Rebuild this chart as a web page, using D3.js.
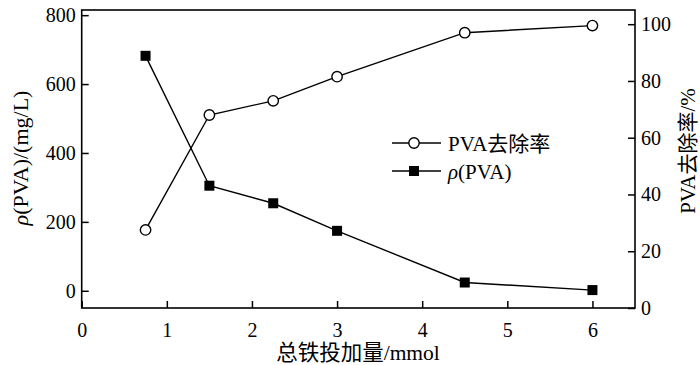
<!DOCTYPE html>
<html>
<head>
<meta charset="utf-8">
<script src="https://cdn.jsdelivr.net/npm/d3@7"></script>
<style>
  html, body { margin: 0; padding: 0; background: #fff; }
  svg { display: block; }
  svg text { font-family: "Liberation Serif", Tinos, "Times New Roman", Times, serif, "Noto Sans CJK SC"; fill: #000; }
</style>
</head>
<body>
<div id="chart"></div>
<script>
// ---- data ----
const ironDose = [0.75, 1.5, 2.25, 3, 4.5, 6];          // 总铁投加量 / mmol
const removalRate = [27.5, 68, 73, 81.5, 97, 99.5];     // PVA去除率 / %
const pvaConc = [682, 305, 254, 174, 24, 2];            // ρ(PVA) / (mg/L)
const xTicks = [0, 1, 2, 3, 4, 5, 6];
const leftTicks = [0, 200, 400, 600, 800];
const rightTicks = [0, 20, 40, 60, 80, 100];
const xTitle = "总铁投加量/mmol";
const rightTitle = "PVA去除率/%";
const legendRemoval = "PVA去除率";

const W = 700, H = 365;
const L = 81.7, R = 635, T = 10, B = 308;

const svg = d3.select("#chart").append("svg").attr("width", W).attr("height", H);

const x = d3.scaleLinear().domain([0, 6.5]).range([L, R]);
const yL = d3.scaleLinear().domain([-50, 815]).range([B, T]);
const yR = d3.scaleLinear().domain([0, 105]).range([B, T]);

const tickLen = 7;
function styleAxis(g, fs) {
  g.attr("font-family", null);
  g.select(".domain").remove();
  g.selectAll(".tick line").attr("stroke", "#000").attr("stroke-width", 1.5);
  g.selectAll(".tick text").attr("font-size", fs).attr("fill", "#000");
}

// bottom axis
const gx = svg.append("g").attr("transform", `translate(0,${B})`)
  .call(d3.axisBottom(x).tickValues(xTicks).tickFormat(d3.format("d")).tickSizeInner(-tickLen).tickSizeOuter(0).tickPadding(15));
styleAxis(gx, 20);

// left axis
const gl = svg.append("g").attr("transform", `translate(${L},0)`)
  .call(d3.axisLeft(yL).tickValues(leftTicks).tickFormat(d3.format("d")).tickSizeInner(-tickLen).tickSizeOuter(0).tickPadding(6));
styleAxis(gl, 20);

// right axis
const gr = svg.append("g").attr("transform", `translate(${R},0)`)
  .call(d3.axisRight(yR).tickValues(rightTicks).tickFormat(d3.format("d")).tickSizeInner(-tickLen).tickSizeOuter(0).tickPadding(6));
styleAxis(gr, 20);

// frame
svg.append("rect").attr("x", L).attr("y", T).attr("width", R - L).attr("height", B - T)
  .attr("fill", "none").attr("stroke", "#000").attr("stroke-width", 1.6);

// lines
const lineR = d3.line().x((d, i) => x(ironDose[i])).y(d => yR(d));
const lineL = d3.line().x((d, i) => x(ironDose[i])).y(d => yL(d));

svg.append("path").attr("d", lineL(pvaConc)).attr("fill", "none").attr("stroke", "#000").attr("stroke-width", 1.4);
svg.append("path").attr("d", lineR(removalRate)).attr("fill", "none").attr("stroke", "#000").attr("stroke-width", 1.4);

const sq = 10;
svg.selectAll("rect.sq").data(pvaConc).enter().append("rect").attr("class", "sq")
  .attr("x", (d, i) => x(ironDose[i]) - sq / 2).attr("y", d => yL(d) - sq / 2)
  .attr("width", sq).attr("height", sq).attr("fill", "#000");

svg.selectAll("circle.ci").data(removalRate).enter().append("circle").attr("class", "ci")
  .attr("cx", (d, i) => x(ironDose[i])).attr("cy", d => yR(d)).attr("r", 5.2)
  .attr("fill", "#fff").attr("stroke", "#000").attr("stroke-width", 1.4);

// titles
svg.append("text").attr("x", 358).attr("y", 360).attr("text-anchor", "middle")
  .attr("font-size", 21.5).text(xTitle);

const lt = svg.append("text").attr("transform", `translate(28,158) rotate(-90)`)
  .attr("text-anchor", "middle").attr("font-size", 22);
lt.append("tspan").attr("font-style", "italic").text("ρ");
lt.append("tspan").text("(PVA)/(mg/L)");

svg.append("text").attr("transform", `translate(695,151) rotate(-90)`)
  .attr("text-anchor", "middle").attr("font-size", 21).text(rightTitle);

// legend
const lg = svg.append("g");
const rows = [
  { y: 143, type: "circle", label: legendRemoval },
  { y: 171, type: "square", label: null }
];
rows.forEach(r => {
  lg.append("line").attr("x1", 392).attr("x2", 441).attr("y1", r.y).attr("y2", r.y)
    .attr("stroke", "#000").attr("stroke-width", 1.4);
  if (r.type === "circle") {
    lg.append("circle").attr("cx", 414).attr("cy", r.y).attr("r", 5.2)
      .attr("fill", "#fff").attr("stroke", "#000").attr("stroke-width", 1.4);
    lg.append("text").attr("x", 448).attr("y", r.y + 7.5).attr("font-size", 21).text(r.label);
  } else {
    lg.append("rect").attr("x", 414 - sq / 2).attr("y", r.y - sq / 2).attr("width", sq).attr("height", sq).attr("fill", "#000");
    const t = lg.append("text").attr("x", 448).attr("y", r.y + 7.5).attr("font-size", 21);
    t.append("tspan").attr("font-style", "italic").text("ρ");
    t.append("tspan").text("(PVA)");
  }
});
</script>
</body>
</html>
